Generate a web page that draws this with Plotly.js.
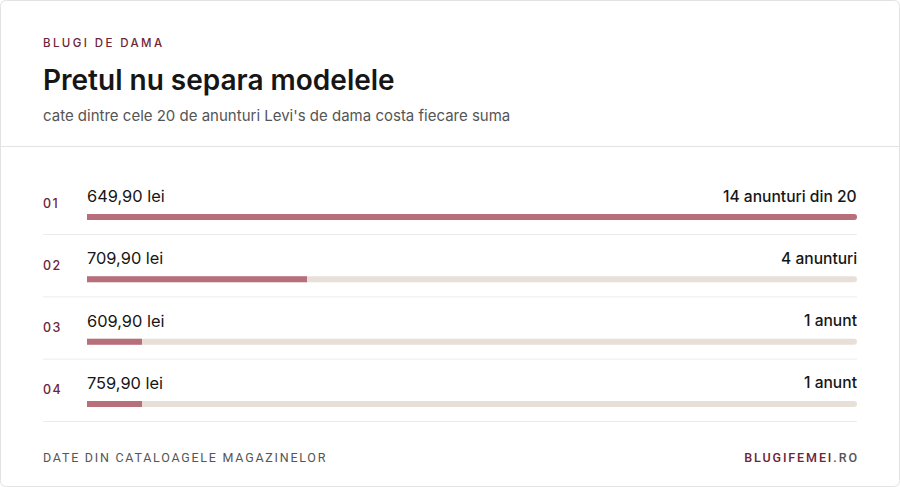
<!DOCTYPE html>
<html>
<head>
<meta charset="utf-8">
<script src="https://cdn.plot.ly/plotly-3.0.1.min.js"></script>
<style>
  html, body { margin: 0; padding: 0; background: #ffffff; }
  #chart { width: 900px; height: 487px; }
</style>
</head>
<body>
<div id="chart"></div>
<script>
// ---- data ----
const kicker = 'BLUGI DE DAMA';
const title = 'Pretul nu separa modelele';
const subtitle = "cate dintre cele 20 de anunturi Levi's de dama costa fiecare suma";
const prices = ['649,90 lei', '709,90 lei', '609,90 lei', '759,90 lei'];
const counts = [14, 4, 1, 1];
const countLabels = ['14 anunturi din 20', '4 anunturi', '1 anunt', '1 anunt'];
const ranks = ['01', '02', '03', '04'];
const sourceNote = 'DATE DIN CATALOAGELE MAGAZINELOR';
const brand = 'BLUGIFEMEI';
const brandTld = '.RO';

// ---- styles ----
const W = 900, H = 487;
const FILL = '#b7707b';
const TRACK = '#e8e0d8';
const MAROON = '#6e2439';
const INK = '#161616';
const GREY = '#555555';
const FONT = 'Inter, "Noto Sans", sans-serif';
const FOOT = 'Roboto, Inter, sans-serif';

const maxVal = Math.max(...counts);
const idx = counts.map((_, i) => i);

// pixel geometry -> axis ranges
const x0 = 87, x1 = 857;
const rowTop = 217, rowStep = 62.33;
const yTopVal = -rowTop / rowStep;
const yBotVal = (H - rowTop) / rowStep;
const barW = 6 / rowStep;
const py = p => 1 - p / H;

const track = {
  type: 'bar', orientation: 'h',
  y: idx, x: counts.map(() => maxVal),
  width: barW,
  marker: { color: TRACK, cornerradius: 3, line: { width: 0 } },
  hoverinfo: 'skip', showlegend: false
};
const fill = {
  type: 'bar', orientation: 'h',
  y: idx, x: counts,
  width: barW,
  marker: { color: FILL, cornerradius: 3, line: { width: 0 } },
  hoverinfo: 'skip', showlegend: false
};

const annotations = [];
const ann = o => annotations.push(Object.assign({ showarrow: false, borderpad: 0, borderwidth: 0 }, o));
// header
ann({ xref: 'paper', yref: 'paper', x: 43 / W, y: py(43), xanchor: 'left', yanchor: 'middle',
  text: kicker, font: { family: FONT, size: 11.5, color: MAROON, weight: 500 }, name: 'ls:2.4' });
ann({ xref: 'paper', yref: 'paper', x: 43 / W, y: py(80), xanchor: 'left', yanchor: 'middle',
  text: title, font: { family: FONT, size: 28, color: INK, weight: 600 } });
ann({ xref: 'paper', yref: 'paper', x: 43 / W, y: py(115), xanchor: 'left', yanchor: 'middle',
  text: subtitle, font: { family: FONT, size: 15, color: GREY } });

// rows
idx.forEach(i => {
  ann({ xref: 'paper', yref: 'y', x: 43 / W, y: i, yshift: 14, xanchor: 'left', yanchor: 'middle',
    text: ranks[i], font: { family: FONT, size: 12.5, color: MAROON, weight: 500 }, name: 'ls:1.5' });
  ann({ xref: 'paper', yref: 'y', x: x0 / W, y: i, yshift: 21, xanchor: 'left', yanchor: 'middle',
    text: prices[i], font: { family: FONT, size: 16.4, color: INK, weight: 400 } });
  ann({ xref: 'paper', yref: 'y', x: x1 / W, y: i, yshift: 21, xanchor: 'right', yanchor: 'middle',
    text: countLabels[i], font: { family: FONT, size: 15.6, color: INK, weight: 550 } });
});

// footer
ann({ xref: 'paper', yref: 'paper', x: 43 / W, y: py(457), xanchor: 'left', yanchor: 'middle',
  text: sourceNote, font: { family: FOOT, size: 12.5, color: GREY }, name: 'ls:1.75' });
ann({ xref: 'paper', yref: 'paper', x: x1 / W, y: py(457), xanchor: 'right', yanchor: 'middle',
  text: '<span style="color:' + MAROON + '">' + brand + '</span>' + brandTld,
  font: { family: FOOT, size: 12.5, color: GREY, weight: 500 }, name: 'ls:1.9' });

const shapes = [];
// card border with rounded corners
const r = 6;
shapes.push({ type: 'path', xref: 'paper', yref: 'paper', layer: 'below',
  path: (() => {
    const L = 0.5, R = W - 0.5, T = 0.5, B = H - 0.5;
    const px = v => v / W, pyy = v => 1 - v / H;
    return `M${px(L + r)},${pyy(T)} L${px(R - r)},${pyy(T)} Q${px(R)},${pyy(T)} ${px(R)},${pyy(T + r)} ` +
      `L${px(R)},${pyy(B - r)} Q${px(R)},${pyy(B)} ${px(R - r)},${pyy(B)} L${px(L + r)},${pyy(B)} ` +
      `Q${px(L)},${pyy(B)} ${px(L)},${pyy(B - r)} L${px(L)},${pyy(T + r)} Q${px(L)},${pyy(T)} ${px(L + r)},${pyy(T)} Z`;
  })(),
  line: { color: '#e2e2e2', width: 1 }, fillcolor: 'rgba(0,0,0,0)' });
// header separator
shapes.push({ type: 'line', xref: 'paper', yref: 'paper', x0: 0, x1: 1, y0: py(146.5), y1: py(146.5),
  line: { color: '#e3e3e3', width: 1 }, layer: 'below' });
// row separators
idx.forEach(i => {
  shapes.push({ type: 'line', xref: 'paper', yref: 'y', x0: 43 / W, x1: x1 / W, y0: i + 17.5 / rowStep, y1: i + 17.5 / rowStep,
    line: { color: '#ececec', width: 1 }, layer: 'below' });
});

const layout = {
  width: W, height: H,
  margin: { l: 0, r: 0, t: 0, b: 0, pad: 0 },
  paper_bgcolor: '#ffffff', plot_bgcolor: 'rgba(0,0,0,0)',
  barmode: 'overlay',
  xaxis: { domain: [x0 / W, x1 / W], range: [0, maxVal], visible: false, fixedrange: true },
  yaxis: { domain: [0, 1], range: [yBotVal, yTopVal], visible: false, fixedrange: true },
  annotations, shapes,
  showlegend: false, hovermode: false
};

Plotly.newPlot('chart', [track, fill], layout, { displayModeBar: false, staticPlot: true }).then(gd => {
  gd.querySelectorAll('.annotation').forEach(n => {
    const k = +n.getAttribute('data-index');
    const a = layout.annotations[k];
    if (!a || !a.name || a.name.indexOf('ls:') !== 0) return;
    const ls = a.name.slice(3) + 'px';
    const t = n.querySelector('text.annotation-text');
    if (!t) return;
    const b0 = t.getBBox();
    t.style.letterSpacing = ls;
    const b1 = t.getBBox();
    let dx;
    if (a.xanchor === 'right') {
      dx = (b0.x + b0.width) - (b1.x + b1.width) + parseFloat(ls);
    } else {
      dx = b0.x - b1.x;
    }
    const prev = t.getAttribute('transform') || '';
    t.setAttribute('transform', 'translate(' + dx + ',0) ' + prev);
  });
});
</script>
</body>
</html>
